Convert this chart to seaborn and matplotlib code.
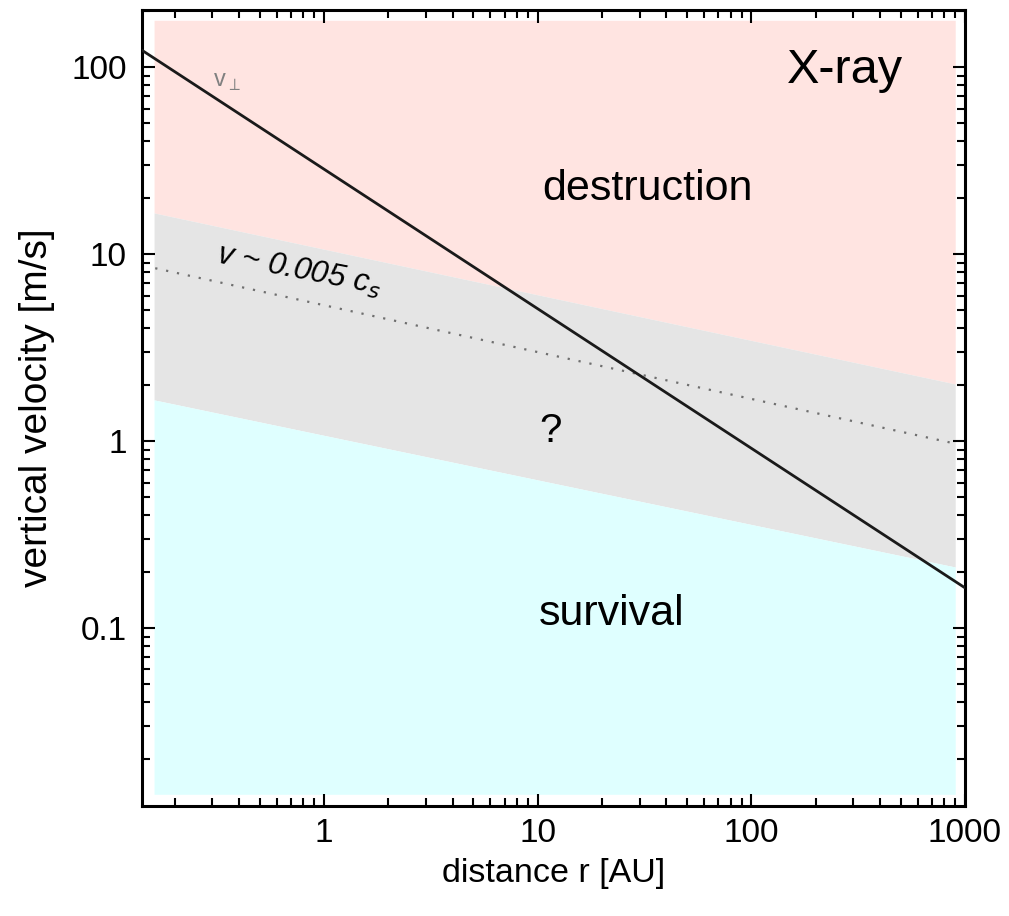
import matplotlib
matplotlib.use("Agg")
import matplotlib.pyplot as plt
import seaborn as sns
import pandas as pd

# ---- data ----
r_line = [0.1405, 1000.0]          # distance r [AU], solid v_perp line end points
v_perp = [123.0, 0.164]             # vertical velocity [m/s]

r_band = [0.16, 900.0]              # shaded regions x-extent
band_top = [178.0, 178.0]           # top of "destruction" region
upper_bound = [16.6, 2.02]          # destruction / uncertain boundary
lower_bound = [1.66, 0.212]         # uncertain / survival boundary
band_bottom = [0.0129, 0.0129]      # bottom of "survival" region

r_dot = [0.162, 874.0]              # dotted v ~ 0.005 c_s line
v_dot = [8.4, 0.976]

x_ticks = [1, 10, 100, 1000]
x_tick_labels = ["1", "10", "100", "1000"]
y_ticks = [0.1, 1, 10, 100]
y_tick_labels = ["0.1", "1", "10", "100"]

# ---- style ----
sns.set_theme(style="ticks")
plt.rcParams["font.family"] = ["Liberation Sans", "DejaVu Sans"]
plt.rcParams["text.color"] = "black"
plt.rcParams["axes.labelcolor"] = "black"
plt.rcParams["xtick.color"] = "black"
plt.rcParams["ytick.color"] = "black"

fig = plt.figure(figsize=(10.09, 9.16), dpi=100)
ax = fig.add_axes([142 / 1009, 1 - 806 / 916, (965 - 142) / 1009, (806 - 10) / 916])

ax.set_xscale("log")
ax.set_yscale("log")
ax.set_xlim(0.1405, 1000)
ax.set_ylim(0.01117, 202)

pink = "#FFE4E1"
grey = "#E5E5E5"
cyan = "#DFFFFF"
ax.fill_between(r_band, upper_bound, band_top, color=pink, lw=0, zorder=0)
ax.fill_between(r_band, lower_bound, upper_bound, color=grey, lw=0, zorder=0)
ax.fill_between(r_band, band_bottom, lower_bound, color=cyan, lw=0, zorder=0)

df_solid = pd.DataFrame({"r": r_line, "v": v_perp})
df_dot = pd.DataFrame({"r": r_dot, "v": v_dot})
sns.lineplot(data=df_dot, x="r", y="v", ax=ax, color="#6f6f6f", lw=1.6,
             linestyle=(0, (1, 4)), zorder=2)
sns.lineplot(data=df_solid, x="r", y="v", ax=ax, color="#1a1a1a", lw=2.0, zorder=3)

# ---- axes / ticks ----
ax.set_xticks(x_ticks)
ax.set_xticklabels(x_tick_labels)
ax.set_yticks(y_ticks)
ax.set_yticklabels(y_tick_labels)
ax.tick_params(which="both", direction="in", top=True, right=True, width=1.5,
               color="black", labelcolor="black")
ax.tick_params(which="major", length=9, labelsize=24, pad=9)
ax.tick_params(which="minor", length=5.5)
ax.tick_params(axis="y", which="major", pad=11)
for s in ax.spines.values():
    s.set_linewidth(2.2)
    s.set_color("black")

ax.set_xlabel("distance r [AU]", fontsize=24.5, labelpad=6, color="black")
ax.set_ylabel("vertical velocity [m/s]", fontsize=28, labelpad=12, color="black")

# ---- annotations ----
ax.text(275, 82, "X-ray", fontsize=35, ha="center", va="baseline", color="black")
ax.text(32.6, 19.5, "destruction", fontsize=31, ha="center", va="baseline", color="black")
ax.text(11.5, 0.99, "?", fontsize=29, ha="center", va="baseline", color="black")
ax.text(22.1, 0.104, "survival", fontsize=31, ha="center", va="baseline", color="black")
ax.text(0.302, 78, r"v$_\perp$", fontsize=17, ha="left", va="baseline", color="#808080")
ax.text(0.309, 8.96, r"v ~ 0.005 c$_s$", fontsize=22.5, style="italic",
        ha="left", va="baseline", rotation=-11, rotation_mode="anchor", color="black")

fig.savefig("out.png", dpi=100)
